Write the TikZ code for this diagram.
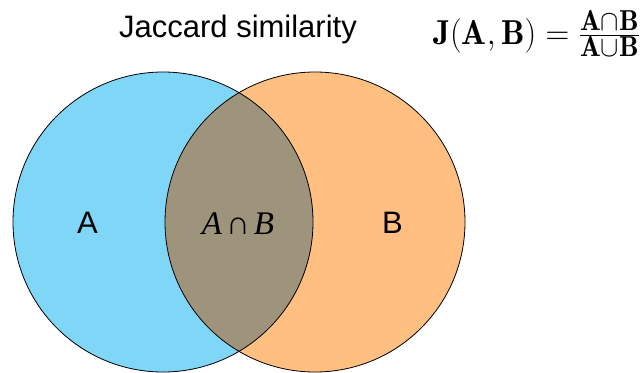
\documentclass[tikz,border=0pt]{standalone}
\usepackage{fontspec}
\newfontfamily\labsans{Liberation Sans}
\newfontfamily\labserif{Liberation Serif}
\definecolor{setA}{HTML}{80D6F7}
\definecolor{setB}{HTML}{FFBF80}
\definecolor{setAB}{HTML}{9E937B}
\newcommand{\jacformula}{\scalebox{1}[1.05]{\resizebox{207pt}{!}{\Huge$\mathbf{J}(\mathbf{A},\mathbf{B})=\frac{\mathbf{A}\cap\mathbf{B}}{\mathbf{A}\cup\mathbf{B}}$}}}
\newcommand{\interlabel}{\labserif\fontsize{33}{38}\selectfont\itshape A\kern0.12em ∩\kern0.12em B}
\tikzset{
  setline/.style={draw=black, line width=0.8pt},
  sanslabel/.style={font=\labsans\fontsize{31}{36}\selectfont, inner sep=0pt, anchor=base},
}
\begin{document}
\begin{tikzpicture}[x=1pt,y=-1pt]
\useasboundingbox (0,0) rectangle (644,372);
\coordinate (ca) at (163,222);
\coordinate (cb) at (315,222);
\fill[setA] (ca) circle[radius=150pt];
\fill[setB] (cb) circle[radius=150pt];
\begin{scope}
  \clip (ca) circle[radius=150pt];
  \fill[setAB] (cb) circle[radius=150pt];
\end{scope}
\draw[setline] (ca) circle[radius=150pt];
\draw[setline] (cb) circle[radius=150pt];
\node[sanslabel] (title) at (238,37) {Jaccard similarity};
\node[sanslabel] (la) at (87.5,233) {A};
\node[sanslabel] (lb) at (392.5,233) {B};
\node[inner sep=0pt, anchor=base] (lab) at (238,234) {\interlabel};
\node[inner sep=0pt, anchor=base west] (formula) at (433,44) {\jacformula};
\end{tikzpicture}
\end{document}
